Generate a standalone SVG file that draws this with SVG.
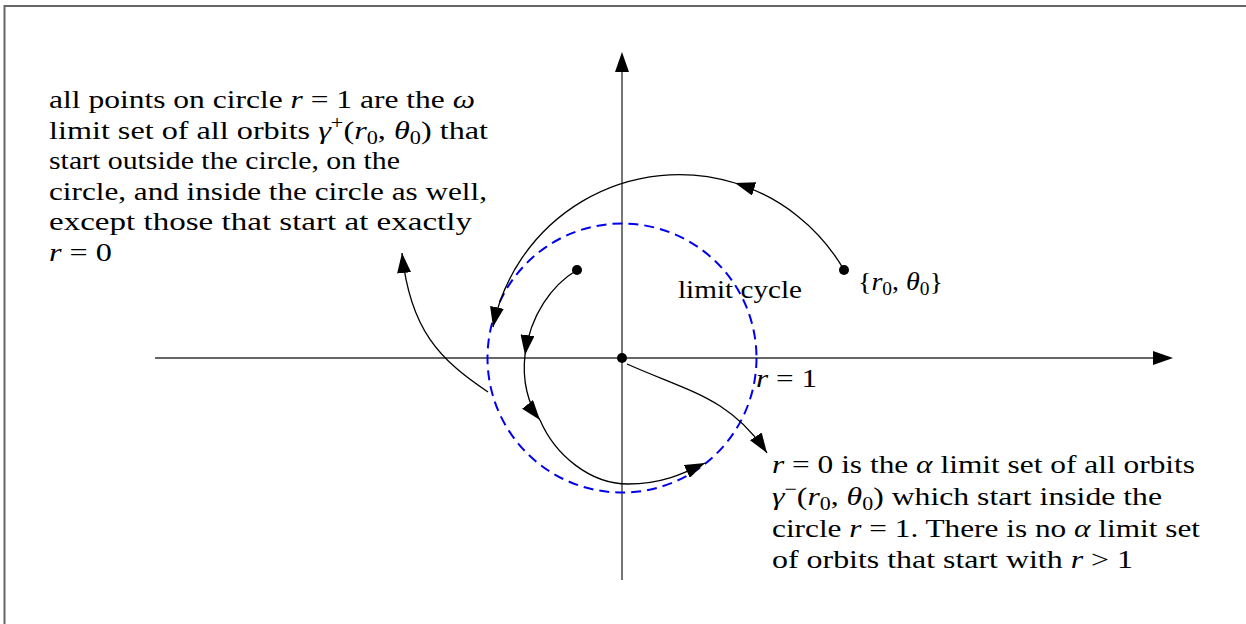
<svg xmlns="http://www.w3.org/2000/svg" width="1246" height="624" viewBox="0 0 1246 624">
<style>
.t{font-family:"Liberation Serif","DejaVu Serif",serif;font-size:26px;fill:#000}
.i{font-style:italic}
.s{font-size:18px}
.ax{stroke:#666;stroke-width:1.8;fill:none}
.orb{stroke:#000;stroke-width:1.3;fill:none}
</style>
<defs>
<marker id="axh" markerUnits="userSpaceOnUse" markerWidth="20" markerHeight="14" viewBox="0 0 20 14" refX="0" refY="7" orient="auto"><path d="M0,0 L20,7 L0,14 z" fill="#000"/></marker>
<marker id="ah" markerUnits="userSpaceOnUse" markerWidth="20" markerHeight="14" viewBox="0 0 20 14" refX="20" refY="7" orient="auto"><path d="M0,0 L20,7 L0,14 z" fill="#000"/></marker>
</defs>
<rect width="1246" height="624" fill="#fff"/>
<path d="M4.5,640 V6 H1260" stroke="#666" stroke-width="2" fill="none"/>
<g id="axes">
<line class="ax" x1="155" y1="358" x2="1153" y2="358" marker-end="url(#axh)"/>
<line class="ax" x1="622" y1="580" x2="622" y2="72" marker-end="url(#axh)"/>
</g>
<g id="limit-cycle">
<circle cx="622" cy="358" r="134.5" fill="none" stroke="#0000ee" stroke-width="2" stroke-dasharray="10 6"/>
</g>
<g id="connectors">
<path class="orb" d="M844,270 A190,190 0 0 0 735,183" marker-end="url(#ah)"/>
<path class="orb" d="M735,183 A190,190 0 0 0 493,327" marker-end="url(#ah)"/>
<path class="orb" d="M577,270 C552,285 530,315 525,355" marker-end="url(#ah)"/>
<path class="orb" d="M525,355 C522,380 528,405 540,420" marker-end="url(#ah)"/>
<path class="orb" d="M540,420 C555,455 590,484 628,484 S690,470 705,463" marker-end="url(#ah)"/>
<path class="orb" d="M627,364 C690,392 730,398 767,453" marker-end="url(#ah)"/>
<path class="orb" d="M488,392 C440,360 410,330 402,253" marker-end="url(#ah)"/>
</g>
<g id="points">
<circle cx="844" cy="270" r="5"/>
<circle cx="577" cy="270" r="5"/>
<circle cx="622" cy="358" r="5"/>
</g>
<g id="label-omega">
<text class="t" x="49" y="108" textLength="426" lengthAdjust="spacingAndGlyphs">all points on circle <tspan class="i">r</tspan> = 1 are the <tspan class="i">ω</tspan></text>
<text class="t" x="49" y="139" textLength="439" lengthAdjust="spacingAndGlyphs">limit set of all orbits <tspan class="i">γ</tspan><tspan class="s" dy="-10">+</tspan><tspan dy="10">(</tspan><tspan class="i">r</tspan><tspan class="s" dy="5">0</tspan><tspan dy="-5">, </tspan><tspan class="i">θ</tspan><tspan class="s" dy="5">0</tspan><tspan dy="-5">) that</tspan></text>
<text class="t" x="49" y="169" textLength="351" lengthAdjust="spacingAndGlyphs">start outside the circle, on the</text>
<text class="t" x="49" y="200" textLength="438" lengthAdjust="spacingAndGlyphs">circle, and inside the circle as well,</text>
<text class="t" x="49" y="230" textLength="423" lengthAdjust="spacingAndGlyphs">except those that start at exactly</text>
<text class="t" x="49" y="261" textLength="63" lengthAdjust="spacingAndGlyphs"><tspan class="i">r</tspan> = 0</text>
</g>
<g id="label-alpha">
<text class="t" x="772" y="473" textLength="423" lengthAdjust="spacingAndGlyphs"><tspan class="i">r</tspan> = 0 is the <tspan class="i">α</tspan> limit set of all orbits</text>
<text class="t" x="772" y="505" textLength="390" lengthAdjust="spacingAndGlyphs"><tspan class="i">γ</tspan><tspan class="s" dy="-10">−</tspan><tspan dy="10">(</tspan><tspan class="i">r</tspan><tspan class="s" dy="5">0</tspan><tspan dy="-5">, </tspan><tspan class="i">θ</tspan><tspan class="s" dy="5">0</tspan><tspan dy="-5">) which start inside the</tspan></text>
<text class="t" x="772" y="537" textLength="428" lengthAdjust="spacingAndGlyphs">circle <tspan class="i">r</tspan> = 1. There is no <tspan class="i">α</tspan> limit set</text>
<text class="t" x="772" y="568" textLength="361" lengthAdjust="spacingAndGlyphs">of orbits that start with <tspan class="i">r</tspan> &gt; 1</text>
</g>
<g id="label-start">
<text class="t" x="858" y="290" textLength="85" lengthAdjust="spacingAndGlyphs">{<tspan class="i">r</tspan><tspan class="s" dy="5">0</tspan><tspan dy="-5">, </tspan><tspan class="i">θ</tspan><tspan class="s" dy="5">0</tspan><tspan dy="-5">}</tspan></text>
</g>
<g id="label-cycle">
<text class="t" x="678" y="298" textLength="124" lengthAdjust="spacingAndGlyphs">limit cycle</text>
</g>
<g id="label-r1">
<text class="t" x="756" y="387" textLength="61" lengthAdjust="spacingAndGlyphs"><tspan class="i">r</tspan> = 1</text>
</g>
</svg>
